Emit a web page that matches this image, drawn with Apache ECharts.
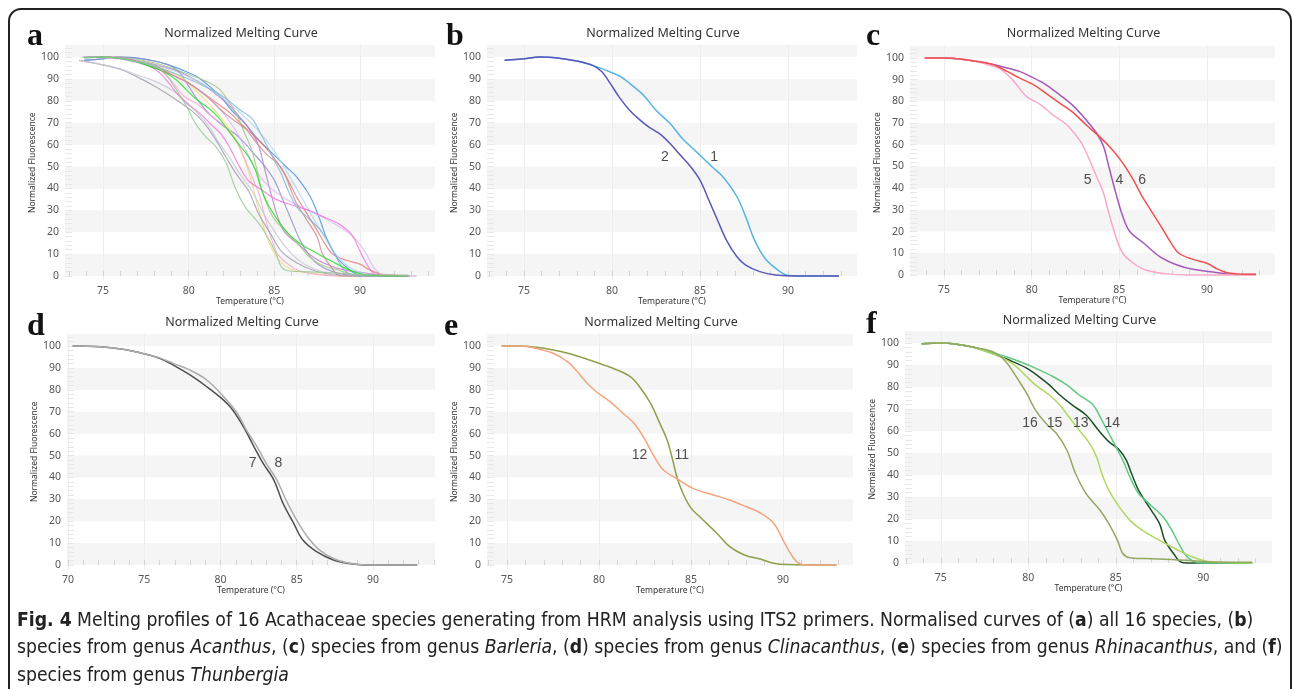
<!DOCTYPE html>
<html><head><meta charset="utf-8">
<script src="https://cdn.jsdelivr.net/npm/echarts@6/dist/echarts.min.js"></script>
<style>html,body{margin:0;padding:0;background:#fff}#c{width:1292px;height:689px}</style>
</head><body><div id="c"></div>
<script>
// ---------- DATA (temperature °C, normalized fluorescence) ----------
const s1 = [[73.9,98.5],[75,99.2],[75.9,100],[76.8,99.7],[78,98.2],[78.9,96.2],[79.9,93.2],[80.5,91],[81,88],[81.8,82.5],[82.5,75.7],[83.3,69.6],[84,62.8],[84.8,56.7],[85.7,49.8],[86.3,45.3],[87.1,36.2],[87.6,27],[88.1,16.4],[88.7,8],[89.3,3.5],[89.9,0.5],[90.7,0],[92.9,0]];
const s2 = [[73.9,98.5],[75,99.2],[75.9,100],[76.8,99.7],[78,98.2],[78.9,96.2],[79.4,93.5],[79.9,88],[80.4,81.8],[81,75.7],[81.5,71.9],[82.1,68],[82.7,65],[83.3,60.5],[83.8,55.9],[84.4,50.6],[85,43.8],[85.5,34.7],[86,25.5],[86.5,16.4],[87.1,8.8],[87.6,5],[88.4,2],[89.3,0.5],[90.5,0],[92.9,0]];
const s3 = [[73.8,100],[76,99.5],[78,96],[79.5,91],[80.5,84],[81.5,76],[82.3,68],[83,58],[83.6,45],[84.1,30],[84.6,17],[85.2,8],[86,3],[87.5,1],[89,0],[93.3,0]];
const s4 = [[73.9,100],[75,100],[75.9,99.5],[76.8,98.5],[77.8,97],[78.6,95.4],[79.3,93.8],[80.1,90.8],[80.8,87.7],[81.6,83],[82.4,77.7],[83.1,71.5],[83.7,65.4],[84.1,59.2],[84.4,50],[84.8,37.7],[85.2,26.9],[85.6,20],[86.4,14.6],[87.3,8.5],[88.3,4.6],[89.2,2.6],[90.2,1.5],[91.1,0.5],[92.1,0.2],[92.8,0.2]];
const s5 = [[73.9,100],[75,100],[75.9,99.5],[76.8,98.5],[77.5,96.8],[78.2,95],[78.9,90],[79.7,82.3],[80.5,78.5],[81.2,73.8],[82,69.2],[82.5,64.6],[82.9,60],[83.3,53],[83.7,45.4],[84.1,37.7],[84.4,28.5],[84.8,17.7],[85.2,10],[85.8,5.4],[86.5,2.3],[87.7,0.5],[88.8,0],[92.8,0]];
const s6 = [[73.9,100],[75,100],[75.9,99.5],[76.8,98.5],[77.8,97],[78.6,93.8],[79.3,90.8],[80.1,87.7],[80.8,83.8],[81.6,79.2],[82.4,74.6],[83.1,69.2],[83.9,63.5],[84.6,57.7],[85.2,51.5],[85.8,43.8],[86.3,36.2],[86.9,28.5],[87.5,20.8],[87.9,15.4],[88.4,10],[89.2,7.2],[90,5.4],[90.5,3.1],[91.1,1.1],[91.7,0.5],[92.8,0.3]];
const s7 = [[70.3,100],[72.1,99.7],[73.6,98.5],[74.9,96.6],[76,94.4],[76.9,91.3],[78,86.8],[79.1,81.4],[80.2,75.3],[80.8,70.8],[81.5,63.2],[82.2,54],[82.8,46.4],[83.5,38.8],[84.1,28.2],[84.8,19],[85.4,11.4],[86.3,6.1],[87.4,2.3],[88.3,0.8],[89.6,0],[92.9,0]];
const s8 = [[70.3,100],[72.1,99.7],[73.6,98.5],[74.9,96.6],[76,94.6],[76.9,92.1],[78,89],[79.1,84.5],[80.2,76.9],[81.1,69.3],[81.7,61.6],[82.4,54],[83,46.4],[83.7,38.8],[84.3,29.7],[85,20.5],[85.7,12.9],[86.5,6.8],[87.4,3],[88.3,1],[89.6,0],[92.9,0]];
const s9 = [[73.8,100],[76,99.5],[78,96.5],[80,91],[81.5,84],[82.8,76],[84,67],[85,57],[86,44],[86.8,33],[87.6,22],[88.4,12],[89.2,5],[90.2,1],[91,0],[93.3,0]];
const s10 = [[73.8,100],[76,99],[78,95],[80,88],[81.5,79],[82.7,67],[83.5,55],[84.3,44],[85.5,36],[87,30],[88.5,24],[89.6,18],[90.3,11],[90.8,4],[91.4,0.5],[93.3,0]];
const s11 = [[74.7,100],[75.7,100],[76.6,99.4],[77.5,98.2],[78.3,96.7],[79.2,94.4],[80.1,91.8],[81,89],[81.7,86],[82.2,81.4],[82.8,73.8],[83.3,64.7],[83.7,57.1],[84,48],[84.25,39.6],[84.6,32],[85,26],[85.5,21.8],[86.4,14.5],[87.1,8.4],[87.9,4.6],[88.8,2.6],[89.5,0.8],[90.2,0.2],[92.9,0]];
const s12 = [[74.7,100],[75.7,100],[76.6,98.9],[77.5,96.7],[78.3,92.8],[78.8,88.5],[79.3,83.5],[79.9,78.8],[80.6,74.6],[81.3,69.3],[81.9,64.7],[82.4,58.6],[83,49.5],[83.5,43.4],[84.2,39.6],[85.1,35],[86.2,32],[87.1,29.7],[88,26.6],[88.8,23.6],[89.5,19],[90,11.4],[90.4,5.3],[90.8,1.1],[91.3,0],[92.9,0]];
const s13 = [[73.9,99.7],[75,100],[75.9,99.5],[76.8,98.2],[77.8,95.7],[78.4,93.9],[79.1,91.6],[79.9,88.6],[80.6,84.8],[81.2,81],[81.8,76.4],[82.5,71.9],[83.3,67.3],[84,60.5],[84.6,55.2],[85.2,51.4],[85.6,46.8],[85.9,40.7],[86.3,33.1],[86.9,25.5],[87.5,17.9],[87.8,10.3],[88.3,4.3],[88.7,0.5],[89.1,0],[92.8,0]];
const s14 = [[73.9,99.7],[75,100],[75.9,99.5],[76.8,98.2],[77.8,96],[78.7,93.9],[79.5,91.6],[80.4,88.6],[81.4,84.8],[82.2,81],[82.9,76.4],[83.7,71.9],[84.2,65],[84.6,59],[85,52.9],[85.4,46.8],[85.8,39.2],[86.3,31.6],[86.9,27],[87.7,21],[88.2,14.9],[88.6,8.8],[89,3.5],[89.4,0.9],[90,0],[92.8,0]];
const s15 = [[73.9,99.7],[75,100],[75.9,99.5],[76.8,98.2],[77.8,95.5],[78.5,93.5],[79.3,89.4],[79.9,84.8],[80.4,81],[81.2,76.4],[81.8,71.9],[82.3,66.6],[82.9,60.5],[83.5,54.4],[83.9,48.3],[84.2,40.7],[84.6,33.1],[85.2,25.5],[85.8,19.5],[86.5,14.9],[87.5,10.3],[88.4,6.5],[89.4,2.7],[90.1,0.9],[90.9,0.3],[92.8,0]];
const s16 = [[73.9,99.7],[75,100],[75.9,99.5],[76.8,98.2],[78,96],[78.7,91.6],[79.3,84.8],[79.9,77.2],[80.4,69.6],[81,63.5],[81.6,59],[82.2,51.4],[82.7,40.7],[83.3,31.6],[84.1,24],[84.6,17.9],[85.1,10.3],[85.4,4.3],[85.8,2.4],[86.7,2],[88.4,1.5],[90.3,0.6],[92.8,0.3]];

const species = [s1,s2,s3,s4,s5,s6,s7,s8,s9,s10,s11,s12,s13,s14,s15,s16];
const speciesNames = ['1','2','3','4','5','6','7','8','9','10','11','12','13','14','15','16'];

// panel membership (species numbers)
const panelA = [1,2,3,4,5,6,7,8,9,10,11,12,13,14,15,16];
const panelB = [1,2];
const panelC = [4,5,6];
const panelD = [7,8];
const panelE = [11,12];
const panelF = [13,14,15,16];
const panelAStart = 73.6; // panel a shows readings from this temperature on

// curve labels [text, temperature, fluorescence]
const labelsB = [['2',83.0,54.4],['1',85.8,54.4]];
const labelsC = [['5',83.2,43.8],['4',85.0,43.8],['6',86.3,43.8]];
const labelsD = [['7',82.1,46.4],['8',83.8,46.4]];
const labelsE = [['12',82.2,50.2],['11',84.5,50.2]];
const labelsF = [['16',80.1,63.5],['15',81.5,63.5],['13',83.0,63.5],['14',84.8,63.5]];

const yTicks = [0,10,20,30,40,50,60,70,80,90,100];
const xTicksA = [75,80,85,90];
const xTicksD = [70,75,80,85,90];
const bands = [[0,10],[20,30],[40,50],[60,70],[80,90],[100,105.5]];

const titleText = 'Normalized Melting Curve';
const xName = 'Temperature (°C)';
const yName = 'Normalized Fluorescence';

// ---------- STYLE ----------
const colorsA = ['#3d8ee0','#8c8ccc','#eedc78','#b87cc8','#f2a6d2','#e87474','#9a9aac','#c4c4d4','#a6d6ee','#d8b8f0','#a4c484','#f070e0','#c88888','#86b4d4','#22dd22','#96c496'];
const colorsSp = {1:'#58b4e2',2:'#5a58b8',4:'#a658b8',5:'#f7a8cc',6:'#f05050',7:'#4e4e4e',8:'#acacac',11:'#8ca04a',12:'#f4a47c',13:'#1c4e26',14:'#62c882',15:'#b0d860',16:'#94a862'};

const panels = [
  {key:'a', l:65,  r:435,  t:45,  b:280.4, xmin:72.78, xmax:94.38, xt:xTicksA, members:panelA, labels:[], lx:27,  ly:37,  ty:33},
  {key:'b', l:487, r:857,  t:45,  b:280.4, xmin:72.9,  xmax:93.92, xt:xTicksA, members:panelB, labels:labelsB, lx:446, ly:37, ty:33},
  {key:'c', l:910, r:1275, t:46,  b:279.3, xmin:73.06, xmax:93.88, xt:xTicksA, members:panelC, labels:labelsC, lx:866, ly:37, ty:33},
  {key:'d', l:67,  r:435,  t:334, b:569.4, xmin:69.93, xmax:94.07, xt:xTicksD, members:panelD, labels:labelsD, lx:27,  ly:327, ty:322},
  {key:'e', l:487, r:853,  t:334, b:569.4, xmin:73.91, xmax:93.8,  xt:xTicksA, members:panelE, labels:labelsE, lx:444, ly:327, ty:322},
  {key:'f', l:905, r:1272, t:331, b:567.4, xmin:72.95, xmax:93.93, xt:xTicksA, members:panelF, labels:labelsF, lx:866, ly:325, ty:320}
];

const W = 1292, H = 689;
const grid = [], xAxis = [], yAxis = [], series = [], graphic = [];
const yMinor = []; for (let v = 0; v <= 104; v += 2) yMinor.push(v);

panels.forEach((p, i) => {
  grid.push({left:p.l, top:p.t, width:p.r-p.l, height:p.b-p.t, containLabel:false});
  const xMinor = []; for (let v = Math.ceil(p.xmin); v <= Math.floor(p.xmax); v++) xMinor.push(v);
  xAxis.push({type:'value', gridIndex:i, min:p.xmin, max:p.xmax,
    axisLine:{show:false}, splitLine:{show:false},
    axisTick:{show:true, inside:true, length:5, lineStyle:{color:'#d4d4d4'}, customValues:xMinor},
    axisLabel:{customValues:p.xt, color:'#555', fontSize:10.5, margin:5, fontFamily:'Noto Sans'},
    name:xName, nameLocation:'middle', nameGap:17, nameTextStyle:{fontSize:8.5, color:'#333', fontFamily:'Noto Sans'}});
  yAxis.push({type:'value', gridIndex:i, min:-2, max:105.5,
    axisLine:{show:false}, splitLine:{show:false},
    axisTick:{show:true, inside:true, length:7, lineStyle:{color:'#e8e8e8'}, customValues:yMinor},
    axisLabel:{customValues:yTicks, color:'#555', fontSize:10.5, margin:6, fontFamily:'Noto Sans'},
    name:yName, nameLocation:'middle', nameGap:26, nameTextStyle:{fontSize:8.5, color:'#333', fontFamily:'Noto Sans'}});
  // background bands + faint vertical lines (kept underneath the curves)
  series.push({type:'line', xAxisIndex:i, yAxisIndex:i, data:[], silent:true, z:0,
    markArea:{silent:true, z:0, itemStyle:{color:'#f5f5f5'}, data:bands.map(b=>[{yAxis:b[0]},{yAxis:b[1]}])},
    markLine:{silent:true, z:0, symbol:'none', label:{show:false}, lineStyle:{color:'#ededed', type:'solid', width:1},
      data:p.xt.map(v=>({xAxis:v}))}});
  p.members.forEach(n => {
    const isA = p.key === 'a';
    const d = isA ? species[n-1].filter(q => q[0] >= panelAStart) : species[n-1];
    series.push({type:'line', name:speciesNames[n-1], xAxisIndex:i, yAxisIndex:i, data:d,
      smooth:0.35, symbol:'none', z:3,
      lineStyle:{width: isA ? 1.2 : 1.5, color: isA ? colorsA[n-1] : colorsSp[n], opacity: isA ? 0.8 : 1}});
  });
  if (p.labels.length) {
    series.push({type:'scatter', xAxisIndex:i, yAxisIndex:i, symbolSize:0, z:5,
      data:p.labels.map(l=>({name:l[0], value:[l[1], l[2]]})),
      label:{show:true, position:'inside', formatter:'{b}', color:'#222', fontSize:14, fontFamily:'Liberation Sans'}});
  }
  graphic.push({type:'text', x:(p.l+p.r)/2 - 9, y:p.ty, style:{text:titleText, font:'12.5px "Noto Sans"', fill:'#333', textAlign:'center', textVerticalAlign:'middle', align:'center', verticalAlign:'middle'}});
  graphic.push({type:'text', x:p.lx, y:p.ly, style:{text:p.key, font:'bold 32px "Liberation Serif"', fill:'#111', textAlign:'left', textVerticalAlign:'middle', align:'left', verticalAlign:'middle'}});
});

// caption
const capFont = '"Liberation Sans Narrow","DejaVu Sans Condensed",sans-serif';
const capSize = 19.2;
const rich = {
  b:{fontWeight:'bold', fontSize:capSize, fontFamily:capFont, fill:'#222', color:'#222'},
  i:{fontStyle:'italic', fontSize:capSize, fontFamily:capFont, fill:'#222', color:'#222'},
  n:{fontSize:capSize, fontFamily:capFont, fill:'#222', color:'#222'}
};
const capLines = [
  '{b|Fig. 4}{n| Melting profiles of 16 Acathaceae species generating from HRM analysis using ITS2 primers. Normalised curves of (}{b|a}{n|) all 16 species, (}{b|b}{n|)}',
  '{n|species from genus }{i|Acanthus}{n|, (}{b|c}{n|) species from genus }{i|Barleria}{n|, (}{b|d}{n|) species from genus }{i|Clinacanthus}{n|, (}{b|e}{n|) species from genus }{i|Rhinacanthus}{n|, and (}{b|f}{n|)}',
  '{n|species from genus }{i|Thunbergia}'
];
const capY = [621, 648, 676];
capLines.forEach((t, k) => {
  graphic.push({type:'text', x:17, y:capY[k], style:{text:t, rich:rich, font:capSize+'px '+capFont, fill:'#222', textVerticalAlign:'middle', verticalAlign:'middle'}});
});
// frame
graphic.push({type:'rect', shape:{x:9, y:9, width:1282, height:720, r:12}, style:{fill:'none', stroke:'#222', lineWidth:2}, z:-1});

const chart = echarts.init(document.getElementById('c'), null, {renderer:'canvas', width:W, height:H});
chart.setOption({animation:false, backgroundColor:'#fff', grid, xAxis, yAxis, series, graphic});
</script></body></html>
